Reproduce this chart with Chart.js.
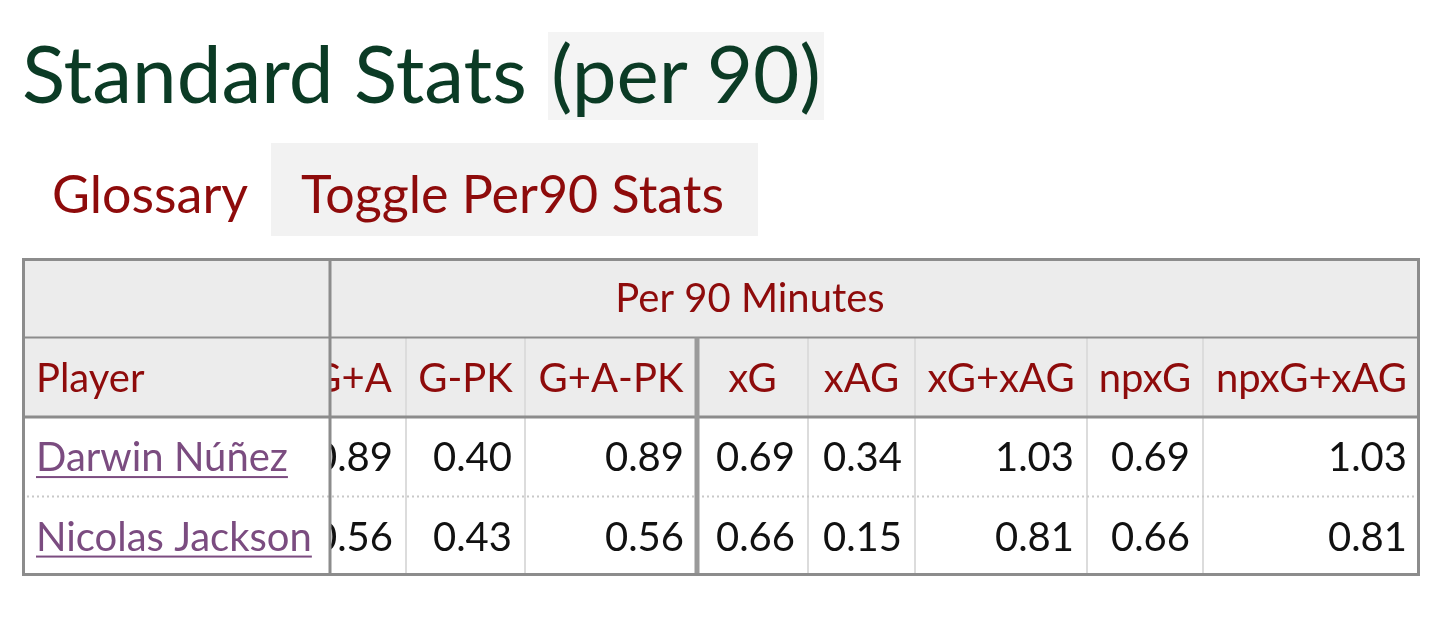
<!DOCTYPE html>
<html>
<head>
<meta charset="utf-8">
<script src="https://cdn.jsdelivr.net/npm/chart.js@4"></script>
<style>
  body { margin: 0; background: #fff; font-family: Lato, sans-serif; }
  .abs { position: absolute; white-space: nowrap; }
  #title { left: 22px; top: 28px; height: 88px; line-height: 88px; font-size: 80px; color: #0b3b25; }
  #title .bg { display: inline-block; background: #f4f4f4; padding: 0 3px; position: relative; top: 4px; margin-left: 21px; }
  #title .bg span { position: relative; top: -4px; }
  .btn { top: 143px; height: 93px; line-height: 93px; font-size: 52px; color: #8e0b0b; padding: 0 30px; }
  #gloss { left: 22px; }
  #toggle { left: 271px; width: 427px; background: #f2f2f2; }
  #tbl { position: absolute; left: 22px; top: 258px; }
</style>
</head>
<body>
<div id="title" class="abs">Standard Stats<span class="bg"><span>(per 90)</span></span></div>
<div id="gloss" class="abs btn"><span style="position:relative;top:4px">Glossary</span></div>
<div id="toggle" class="abs btn"><span style="position:relative;top:4px">Toggle Per90 Stats</span></div>
<canvas id="tbl" width="1398" height="318"></canvas>
<script>
// Per 90 numbers
let players = ['Darwin Núñez', 'Nicolas Jackson'];
let statLabels = ['G+A', 'G-PK', 'G+A-PK', 'xG', 'xAG', 'xG+xAG', 'npxG', 'npxG+xAG'];
let gPlusA = [0.89, 0.56];
let gMinusPk = [0.40, 0.43];
let gaMinusPk = [0.89, 0.56];
let xG = [0.69, 0.66];
let xAG = [0.34, 0.15];
let xgPlusXag = [1.03, 0.81];
let npxG = [0.69, 0.66];
let npxgPlusXag = [1.03, 0.81];
let groupLabel = 'Per 90 Minutes';

let statValues = [gPlusA, gMinusPk, gaMinusPk, xG, xAG, xgPlusXag, npxG, npxgPlusXag];
let rowLabels = ['group', 'Player'].concat(players);

// column layout (x scale units), player column first
let colWidths = [308, 76, 119, 172, 111, 107, 172, 116, 217];
let hiddenPart = 32;   // G+A column runs on under the frozen player column
let groupCenter = 728;
let edges = [0];
colWidths.forEach(w => edges.push(edges[edges.length - 1] + w));

const RED = '#8e0b0b', LINK = '#7b4c80', GRID = '#dcdcdc', DARK = '#8c8c8c', HEAD_BG = '#ececec';
const HEAD_FONT = 40, BODY_FONT = 40;

let datasets = statLabels.map((lab, c) => ({
  label: lab,
  data: players.map((p, r) => ({ x: edges[c + 2] - 13, y: p })),
  pointRadius: 0
}));

function capBase(y, size) { return y + size * 0.358; }

const tablePlugin = {
  id: 'tablePlugin',
  beforeDatasetsDraw(chart) {
    const ctx = chart.ctx, x = chart.scales.x, y = chart.scales.y;
    const px = v => x.getPixelForValue(v);
    const band = (y.getPixelForValue(1) - y.getPixelForValue(0));
    const top = i => y.getPixelForValue(i) - band / 2;
    const L = px(0), R = px(edges[edges.length - 1]);
    ctx.save();
    // backgrounds
    ctx.fillStyle = '#fff';
    ctx.fillRect(L, top(0), R - L, top(4) - top(0));
    ctx.fillStyle = HEAD_BG;
    ctx.fillRect(L, top(0), R - L, top(2) - top(0));
    // light column lines (header + body)
    ctx.strokeStyle = GRID; ctx.lineWidth = 2;
    for (let c = 2; c < edges.length - 1; c++) {
      if (c === 4) continue;
      ctx.beginPath(); ctx.moveTo(px(edges[c]), top(1)); ctx.lineTo(px(edges[c]), top(4)); ctx.stroke();
    }
    // dotted row separator
    ctx.strokeStyle = '#c8c8c8'; ctx.setLineDash([2, 3]); ctx.lineWidth = 2;
    ctx.beginPath(); ctx.moveTo(L, top(3)); ctx.lineTo(R, top(3)); ctx.stroke();
    ctx.setLineDash([]);
    // header texts
    ctx.fillStyle = RED; ctx.font = HEAD_FONT + 'px Lato'; ctx.textAlign = 'center';
    ctx.fillText(groupLabel, px(groupCenter), capBase(y.getPixelForValue(0), HEAD_FONT));
    statLabels.forEach((lab, c) => {
      const l = c === 0 ? edges[1] - hiddenPart : edges[c + 1];
      ctx.fillText(lab, px((l + edges[c + 2]) / 2), capBase(y.getPixelForValue(1), HEAD_FONT));
    });
    ctx.restore();
  },
  afterDatasetsDraw(chart) {
    const ctx = chart.ctx, x = chart.scales.x, y = chart.scales.y;
    const px = v => x.getPixelForValue(v);
    const band = (y.getPixelForValue(1) - y.getPixelForValue(0));
    const top = i => y.getPixelForValue(i) - band / 2;
    const L = px(0), R = px(edges[edges.length - 1]), P = px(edges[1]);
    ctx.save();
    // values from the datasets' own points
    ctx.fillStyle = '#111'; ctx.font = BODY_FONT + 'px Lato'; ctx.textAlign = 'right';
    chart.data.datasets.forEach((ds, c) => {
      chart.getDatasetMeta(c).data.forEach((pt, r) => {
        ctx.fillText(statValues[c][r].toFixed(2), pt.x, capBase(pt.y, BODY_FONT));
      });
    });
    // frozen player column
    ctx.fillStyle = HEAD_BG; ctx.fillRect(L, top(0), P - L, top(2) - top(0));
    ctx.fillStyle = '#fff'; ctx.fillRect(L, top(2), P - L, top(4) - top(2));
    ctx.strokeStyle = '#c8c8c8'; ctx.setLineDash([2, 3]); ctx.lineWidth = 2;
    ctx.beginPath(); ctx.moveTo(L, top(3)); ctx.lineTo(P, top(3)); ctx.stroke();
    ctx.setLineDash([]);
    ctx.textAlign = 'left';
    ctx.fillStyle = RED; ctx.font = HEAD_FONT + 'px Lato';
    ctx.fillText('Player', L + 14, capBase(y.getPixelForValue(1), HEAD_FONT));
    ctx.font = BODY_FONT + 'px Lato';
    players.forEach((p, r) => {
      const by = capBase(y.getPixelForValue(r + 2), BODY_FONT);
      ctx.fillStyle = LINK;
      ctx.fillText(p, L + 14, by);
      const w = ctx.measureText(p).width;
      ctx.fillRect(L + 14, by + 5, w, 2);
    });
    // strong lines
    ctx.strokeStyle = DARK;
    ctx.lineWidth = 3;
    ctx.beginPath(); ctx.moveTo(P, top(0)); ctx.lineTo(P, top(4)); ctx.stroke();
    ctx.beginPath(); ctx.moveTo(L, top(2)); ctx.lineTo(R, top(2)); ctx.stroke();
    ctx.lineWidth = 2;
    ctx.beginPath(); ctx.moveTo(L, top(1)); ctx.lineTo(R, top(1)); ctx.stroke();
    ctx.strokeStyle = '#9a9a9a'; ctx.lineWidth = 5;
    ctx.beginPath(); ctx.moveTo(px(edges[4]), top(1)); ctx.lineTo(px(edges[4]), top(4)); ctx.stroke();
    ctx.strokeStyle = DARK; ctx.lineWidth = 3;
    ctx.strokeRect(L + 1.5, top(0) + 1.5, R - L - 3, top(4) - top(0) - 3);
    ctx.restore();
  }
};

new Chart(document.getElementById('tbl'), {
  type: 'scatter',
  data: { datasets: datasets },
  options: {
    responsive: false,
    animation: false,
    layout: { padding: 0 },
    plugins: { legend: { display: false }, tooltip: { enabled: false } },
    scales: {
      x: { type: 'linear', min: 0, max: edges[edges.length - 1], display: false },
      y: { type: 'category', labels: rowLabels, offset: true, display: false }
    }
  },
  plugins: [tablePlugin]
});
</script>
</body>
</html>
